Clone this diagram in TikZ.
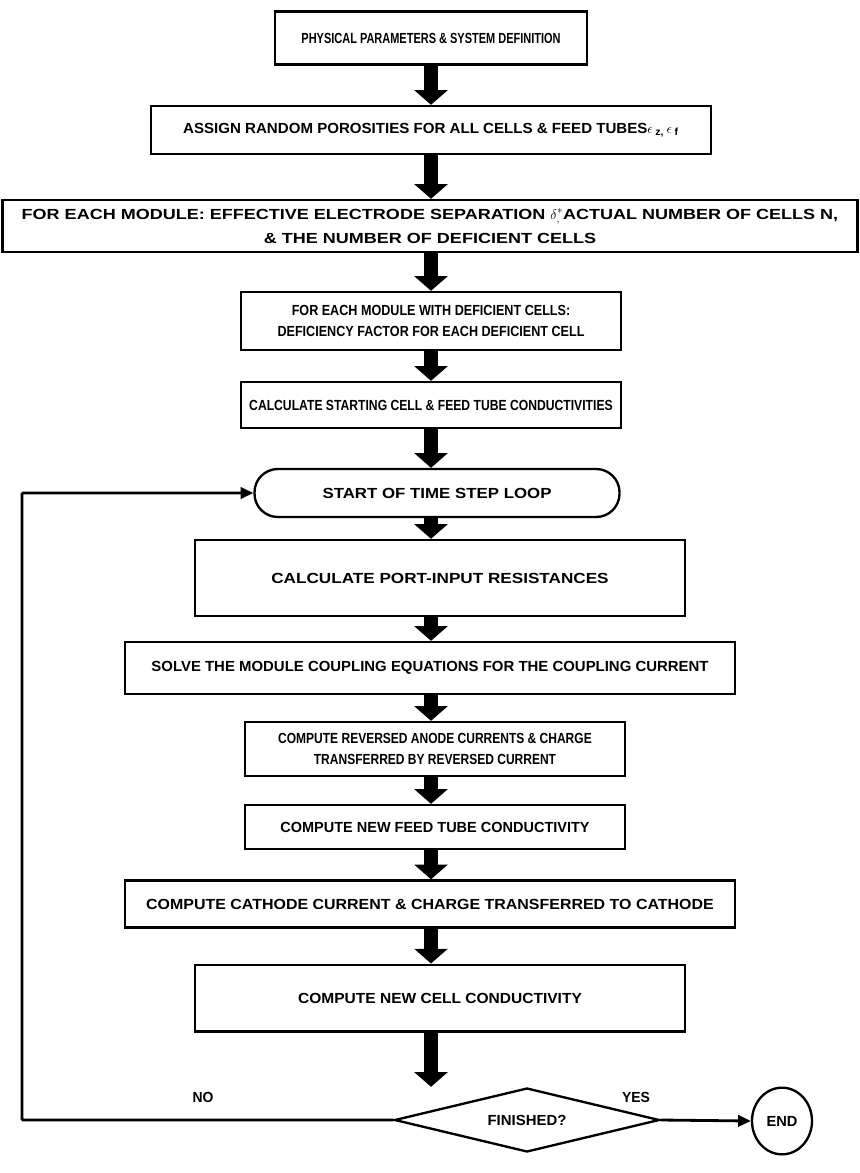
\documentclass[tikz,border=0pt]{standalone}
\usepackage{fontspec}
\setmainfont{Liberation Sans}[FakeStretch=0.85]
\usetikzlibrary{arrows.meta,shapes.geometric}
\newcommand\wfont[1]{\fontspec{Liberation Sans}[FakeStretch=#1]\fontsize{12.5}{18}\selectfont\bfseries}

\begin{document}
\begin{tikzpicture}[
  x=0.03cm, y=-0.03cm,
  wd/.style={font=\wfont{#1}},
  pbox/.style={draw, line width=2pt, align=center, inner sep=2pt, wd=0.85},
  termbox/.style={pbox, rounded corners=0.7cm},
  decide/.style={pbox, diamond, aspect=4.3, inner sep=0pt},
  stopper/.style={pbox, ellipse, inner sep=0pt},
  blk/.style={-{Triangle[length=0.44cm, width=0.98cm]}, line width=0.44cm},
  flow/.style={-{Triangle[length=0.38cm, width=0.34cm]}, line width=2.4pt},
  lab/.style={wd=0.95}
]
\useasboundingbox (0,0) rectangle (859,1173);
% set-up steps
\node[pbox, wd=0.75, minimum width=9.36cm, minimum height=1.59cm] (b1) at (431,38) {PHYSICAL PARAMETERS \& SYSTEM DEFINITION};
\node[pbox, wd=1.03, minimum width=16.8cm, minimum height=1.44cm] (b2) at (431,130) {ASSIGN RANDOM POROSITIES FOR ALL CELLS \& FEED TUBES$\epsilon$\,\textsubscript{z,}\,$\epsilon$\,\textsubscript{f}};
\node[pbox, wd=1.23, minimum width=25.65cm, minimum height=1.56cm, inner sep=0pt] (b3) at (430,226) {FOR EACH MODULE: EFFECTIVE ELECTRODE SEPARATION $\delta_{,}^{*}$ACTUAL NUMBER OF CELLS N,\\[2.5pt]\& THE NUMBER OF DEFICIENT CELLS};
\node[pbox, wd=0.86, minimum width=11.4cm, minimum height=1.74cm] (b4) at (431,321) {FOR EACH MODULE WITH DEFICIENT CELLS:\\DEFICIENCY FACTOR FOR EACH DEFICIENT CELL};
\node[pbox, wd=0.83, minimum width=11.4cm, minimum height=1.38cm] (b5) at (431,405) {CALCULATE STARTING CELL \& FEED TUBE CONDUCTIVITIES};
% time step loop
\node[termbox, wd=1.15, minimum width=10.95cm, minimum height=1.44cm] (start) at (437,493) {START OF TIME STEP LOOP};
\node[pbox, wd=1.17, minimum width=14.7cm, minimum height=2.28cm] (b6) at (440,578) {CALCULATE PORT-INPUT RESISTANCES};
\node[pbox, wd=1.02, minimum width=18.3cm, minimum height=1.56cm] (b7) at (430,668) {SOLVE THE MODULE COUPLING EQUATIONS FOR THE COUPLING CURRENT};
\node[pbox, wd=0.82, minimum width=11.4cm, minimum height=1.62cm] (b8) at (435,749) {COMPUTE REVERSED ANODE CURRENTS \& CHARGE\\TRANSFERRED BY REVERSED CURRENT};
\node[pbox, wd=0.99, minimum width=11.4cm, minimum height=1.32cm] (b9) at (435,827) {COMPUTE NEW FEED TUBE CONDUCTIVITY};
\node[pbox, wd=1.09, minimum width=18.3cm, minimum height=1.41cm] (b10) at (430,904) {COMPUTE CATHODE CURRENT \& CHARGE TRANSFERRED TO CATHODE};
\node[pbox, wd=1.06, minimum width=14.7cm, minimum height=2.0cm] (b11) at (440,998) {COMPUTE NEW CELL CONDUCTIVITY};
\node[decide, wd=1.02, minimum width=7.95cm, minimum height=1.92cm] (fin) at (527,1120) {FINISHED?};
\node[stopper, wd=1.0, minimum width=1.8cm, minimum height=2.0cm] (stop) at (782,1121) {END};
\node[lab] (no) at (203,1097) {NO};
\node[lab] (yes) at (636,1097) {YES};
% block arrows
\foreach \a/\b in {b1/b2, b2/b3, b3/b4, b4/b5, b5/start, start/b6, b6/b7, b7/b8, b8/b9, b9/b10, b10/b11, b11/fin}
  \draw[blk] (431,0 |- \a.south) -- (431,0 |- \b.north);
% loop back and exit
\coordinate (lp) at (22,1120);
\draw[flow, rounded corners=1pt] (fin.west) -- (lp) |- (start.west);
\draw[flow] (fin.east) -- (stop.west);
\end{tikzpicture}
\end{document}
